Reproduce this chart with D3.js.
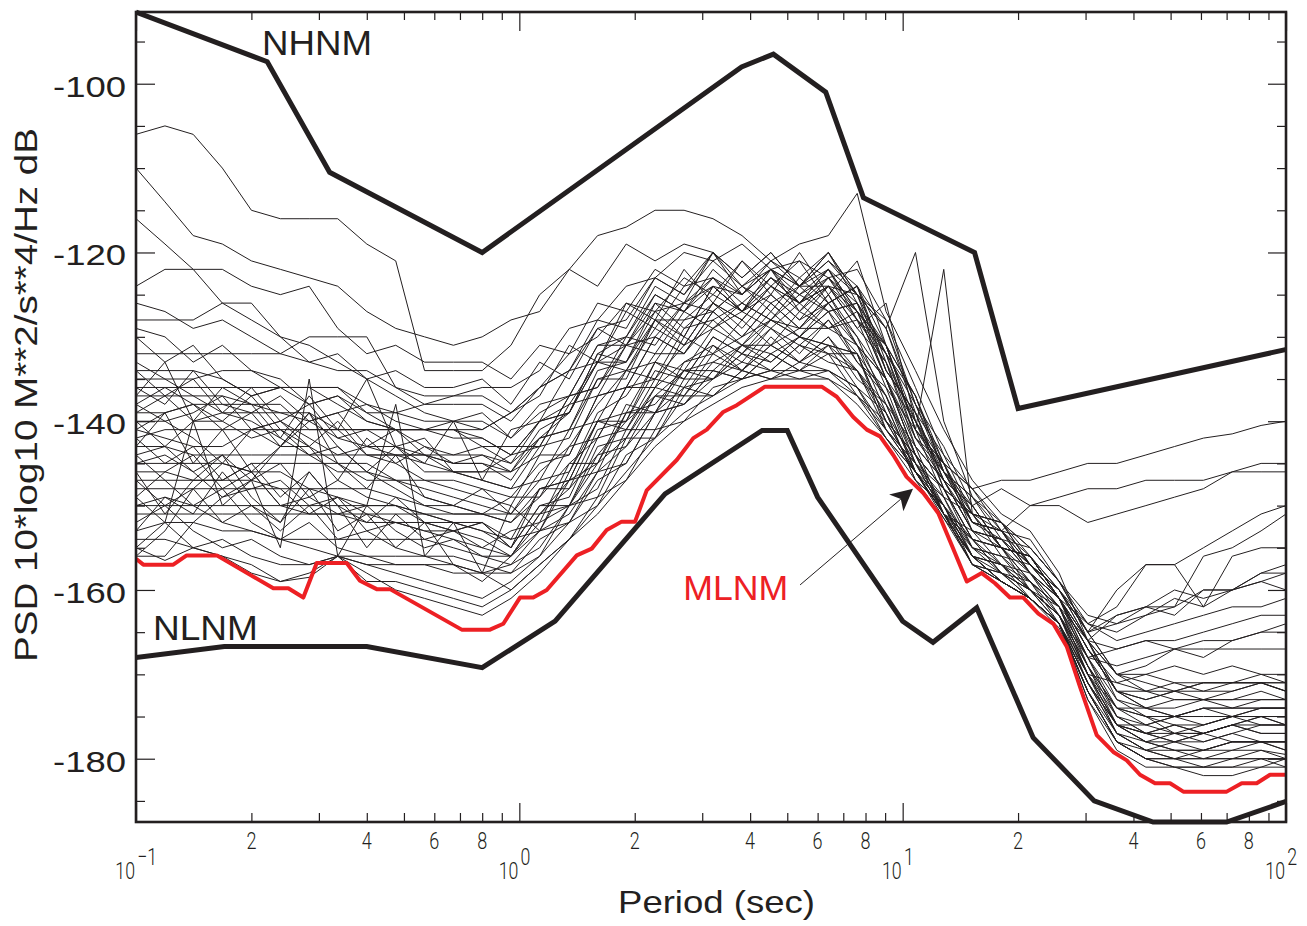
<!DOCTYPE html>
<html>
<head>
<meta charset="utf-8">
<script src="https://cdn.jsdelivr.net/npm/d3@7"></script>
<style>
  html, body { margin: 0; padding: 0; background: #fff; }
  svg { display: block; }
  text { font-family: "Liberation Sans", Arial, Helvetica, sans-serif; fill: #231f20; }
  .thin { font-family: Roboto, "DejaVu Sans", sans-serif; font-weight: 300; fill: #231f20; }
</style>
</head>
<body>
<svg id="chart" width="1307" height="926"></svg>
<script>
// Period grid (s) shared by the station PSD curves, quarter-octave steps
const gridPeriods = [0.1,0.119,0.141,0.168,0.2,0.238,0.283,0.336,0.4,0.476,0.566,0.673,0.8,
  0.951,1.13,1.35,1.6,1.9,2.26,2.69,3.2,3.81,4.53,5.38,6.4,7.61,9.05,10.8,12.8,15.2,18.1,21.5,
  25.6,30.4,36.2,43.1,51.2,60.9,72.4,86.1,100];

// Station PSD curves (dB), one value per grid period
const stationCurves = [
  [-106,-105,-106,-110,-115,-116,-116,-116,-119,-121,-134,-134,-134, -131,-125,-122,-118,-117,-115,-115, -116,-118,-121,-119,-118,-113,-127, -134,-141,-147,-151,-153,-158,-166, -173,-175,-175,-174,-175,-174,-174],
  [-110,-114,-118,-119,-121,-122,-123,-124,-127,-129,-130,-131,-130, -128,-127,-122,-124,-119,-121,-119, -120,-123,-120,-124,-121,-125,-132, -137,-146,-150,-155,-156,-161,-168, -175,-177,-178,-178,-177,-178,-178],
  [-116,-119,-122,-126,-128,-130,-131,-133,-135,-137,-139,-140,-141, -139,-136,-134,-129,-128,-123,-125, -120,-124,-122,-127,-124,-129,-126, -140,-145,-153,-154,-158,-161,-169, -176,-178,-179,-180,-180,-179,-180],
  [-124,-122,-122,-122,-124,-125,-124,-129,-132,-131,-133,-133,-133, -135,-131,-132,-126,-127,-122,-124, -120,-125,-122,-124,-120,-125,-129, -138,-143,-150,-148,-150,-150,-152, -151,-150,-149,-148,-146,-145,-145],
  [-126,-127,-129,-128,-130,-132,-133,-132,-135,-134,-136,-136,-135, -138,-133,-135,-129,-131,-125,-127, -123,-127,-125,-128,-126,-124,-134, -139,-148,-151,-155,-156,-161,-167, -172,-173,-172,-173,-172,-171,-171],
  [-132,-132,-132,-132,-132,-132,-130,-130,-130,-136,-138,-138,-138, -140,-136,-134,-128,-129,-123,-125, -121,-124,-121,-123,-120,-126,-132, -142,-145,-151,-152,-156,-160,-165, -160,-157,-157,-155,-153,-151,-150],
  [-134,-134,-134,-135,-137,-136,-136,-138,-140,-141,-141,-141,-141, -139,-137,-131,-133,-127,-129,-124, -123,-126,-123,-125,-122,-127,-135, -143,-147,-153,-154,-158,-162,-170, -176,-177,-176,-177,-176,-175,-176],
  [-135,-135,-135,-134,-134,-136,-136,-136,-139,-141,-143,-144,-144, -145,-140,-139,-132,-133,-126,-129, -126,-128,-124,-126,-122,-128,-133, -142,-146,-152,-153,-157,-160,-166, -170,-172,-172,-171,-171,-170,-171],
  [-137,-133,-140,-136,-138,-142,-137,-141,-135,-143,-145,-140,-147, -141,-140,-134,-133,-126,-128,-122, -126,-121,-125,-120,-125,-121,-131, -137,-146,-149,-154,-155,-159,-163, -164,-163,-162,-160,-160,-158,-158],
  [-139,-139,-138,-138,-138,-138,-141,-141,-144,-144,-145,-146,-146, -146,-144,-138,-137,-131,-132,-127, -129,-126,-128,-125,-127,-126,-134, -139,-147,-150,-155,-156,-161,-166, -172,-174,-174,-173,-174,-174,-174],
  [-140,-140,-142,-145,-141,-140,-143,-147,-142,-145,-147,-148,-149, -150,-144,-144,-137,-136,-130,-132, -127,-130,-126,-129,-125,-131,-135, -144,-148,-154,-155,-159,-162,-168, -174,-176,-177,-177,-176,-177,-177],
  [-141,-142,-143,-143,-141,-141,-141,-141,-141,-141,-141,-141,-143, -143,-143,-137,-136,-131,-130,-126, -124,-127,-123,-126,-124,-128,-132, -138,-146,-149,-153,-150,-149,-148, -148,-147,-147,-147,-146,-146,-146],
  [-142,-145,-143,-147,-145,-149,-146,-150,-152,-149,-152,-153,-152, -154,-148,-148,-141,-140,-134,-135, -130,-132,-128,-130,-127,-133,-137, -145,-148,-155,-156,-159,-163,-171, -177,-179,-179,-179,-178,-178,-179],
  [-143,-143,-144,-144,-144,-144,-144,-144,-144,-144,-144,-146,-147, -148,-147,-141,-140,-134,-135,-129, -128,-131,-127,-130,-126,-130,-138, -143,-151,-153,-157,-158,-163,-170, -176,-178,-178,-177,-178,-178,-178],
  [-144,-143,-140,-139,-140,-142,-144,-143,-146,-148,-150,-150,-151, -152,-149,-145,-142,-136,-136,-130, -132,-128,-131,-127,-129,-128,-136, -141,-149,-151,-156,-157,-161,-167, -172,-173,-172,-172,-172,-171,-172],
  [-145,-145,-145,-145,-146,-146,-148,-148,-148,-149,-150,-151,-151, -152,-148,-147,-140,-140,-133,-135, -130,-132,-129,-131,-128,-132,-137, -146,-149,-156,-157,-160,-163,-169, -175,-176,-175,-175,-175,-175,-175],
  [-148,-148,-148,-148,-148,-148,-148,-149,-150,-150,-151,-152,-153, -154,-153,-147,-146,-139,-139,-134, -135,-131,-133,-130,-131,-132,-141, -145,-151,-155,-158,-160,-164,-170, -177,-179,-180,-180,-180,-180,-180],
  [-146,-151,-147,-144,-149,-152,-146,-150,-155,-151,-154,-153,-155, -153,-152,-145,-145,-138,-139,-133, -131,-134,-130,-133,-131,-134,-139, -147,-150,-156,-157,-160,-163,-170, -175,-177,-177,-178,-177,-176,-176],
  [-151,-151,-151,-151,-151,-151,-151,-151,-151,-151,-151,-151,-151, -151,-151,-147,-145,-139,-138,-134, -134,-131,-132,-130,-132,-132,-140, -144,-151,-154,-158,-160,-164,-172, -178,-180,-181,-181,-181,-180,-181],
  [-150,-149,-150,-152,-153,-154,-152,-155,-156,-157,-157,-158,-158, -158,-154,-152,-147,-145,-139,-138, -134,-135,-132,-134,-132,-137,-140, -146,-151,-157,-158,-161,-164,-172, -178,-180,-180,-181,-181,-181,-181],
  [-152,-150,-153,-155,-154,-156,-157,-156,-157,-158,-159,-160,-161, -159,-156,-152,-150,-144,-142,-137, -137,-134,-135,-134,-135,-137,-142, -146,-151,-157,-159,-161,-164,-173, -179,-181,-181,-182,-182,-181,-180],
  [-154,-154,-155,-154,-156,-157,-157,-156,-157,-157,-157,-157,-158, -160,-157,-154,-149,-147,-141,-140, -136,-135,-134,-135,-134,-136,-141, -146,-151,-156,-159,-161,-164,-171, -177,-179,-178,-179,-178,-178,-178],
  [-155,-152,-140,-150,-147,-155,-135,-156,-150,-138,-156,-152,-158, -150,-153,-146,-140,-141,-136,-133, -132,-130,-128,-129,-126,-131,-137, -144,-150,-154,-157,-159,-162,-170, -174,-174,-175,-174,-174,-173,-173],
  [-156,-153,-148,-145,-146,-150,-151,-149,-151,-152,-153,-154,-155, -156,-151,-150,-144,-143,-137,-138, -134,-135,-132,-134,-131,-136,-139, -147,-150,-157,-158,-161,-164,-172, -177,-178,-177,-177,-176,-176,-176],
  [-156,-156,-152,-149,-147,-143,-140,-139,-138,-140,-141,-142,-142, -144,-140,-138,-133,-134,-128,-131, -126,-129,-125,-128,-124,-129,-133, -143,-147,-153,-154,-157,-161,-166, -167,-166,-167,-166,-166,-165,-165],
  [-149,-152,-155,-156,-157,-159,-158,-156,-158,-160,-161,-162,-163, -161,-158,-154,-151,-147,-143,-140, -138,-136,-135,-135,-135,-138,-142, -146,-151,-157,-159,-161,-164,-173, -178,-180,-181,-181,-180,-180,-180],
  [-147,-150,-148,-152,-150,-153,-150,-154,-153,-155,-156,-157,-158, -157,-155,-150,-149,-142,-142,-136, -137,-134,-135,-133,-134,-136,-142, -147,-151.5,-157,-159,-161,-164,-171, -176,-177,-176,-177,-176,-177,-177],
  [-136,-138,-134,-138,-139,-137,-140,-139,-143,-141,-144,-145,-145, -146,-141,-139,-132,-130,-124,-126, -120,-123,-120,-124,-121,-124,-129, -120,-140,-149,-152,-155,-159,-165, -170,-170,-169,-170,-169,-170,-170],
  [-138,-136,-138,-141,-139,-143,-139,-143,-146,-143,-146,-146,-147, -148,-143,-142,-135,-135,-128,-130, -124,-127,-122,-126,-122,-127,-131, -141,-122,-151,-152,-157,-160,-164, -165,-163,-161,-162,-160,-159,-160],
  [-130,-133,-131,-135,-137,-136,-138,-137,-140,-141,-141,-140,-139, -142,-139,-137,-131,-131,-126,-127, -122,-125,-122,-125,-123,-126,-131, -141,-145,-152,-153,-158,-161,-167, -171,-172,-173,-173,-173,-173,-173],
  [-129,-130,-133,-131,-134,-135,-138,-137,-139,-139,-138,-137,-137, -139,-136,-132,-130,-126,-127,-123, -125,-121,-124,-121,-126,-124,-131, -137,-145,-148,-147,-147,-146,-145, -145,-144,-143,-142,-141.5,-140.5,-140],
  [-142,-141,-141,-141,-141,-143,-143,-145,-145,-147,-148,-149,-150, -151,-147,-146,-139,-137,-132,-132, -127,-130,-126,-129,-125,-130,-135, -144,-148,-154,-155,-159,-162,-166, -163,-162,-160,-161,-160,-158,-157],
  [-139,-137,-140,-140,-142,-141,-144,-146,-146,-147,-147,-147,-148, -149,-145,-144,-137,-136,-130,-132, -128,-126,-128,-124,-127,-126,-135, -140,-148,-151,-155,-156,-161,-164, -162,-157,-157,-162,-156,-155,-155],
  [-133,-135,-137,-137,-138,-139,-140,-142,-143,-143,-144,-144,-143, -145,-142,-141,-135,-134,-129,-131, -126,-128,-124,-127,-123,-127,-132, -141,-146,-152,-153,-157,-160,-165, -164,-162,-162,-156,-155,-153,-151],
  [-137,-137,-137,-139,-139,-139,-139,-141,-141,-141,-141,-141,-142, -144,-140,-139,-133,-133,-127,-130, -124,-127,-123,-126,-124,-125,-134, -139,-147,-150,-155,-156,-161,-168, -169,-168,-167,-167,-167,-167,-167],
  [-146,-146,-147,-147,-147,-148,-151,-151,-152,-152,-152,-152,-153, -155,-150,-149,-142,-141,-135,-136, -131,-133,-129,-132,-128,-133,-136, -145,-149,-155,-156,-160,-163,-168, -167,-166,-166,-165,-164,-163,-163],
  [-140,-143,-146,-144,-147,-145,-149,-147,-149,-150,-151,-152,-152, -155,-150,-150,-143,-142,-136,-137, -132,-134,-131,-133,-130,-134,-138, -146,-150,-156,-157,-161,-164,-170, -171,-170,-171,-171,-171,-171,-172],
  [-153,-152,-152,-153,-153,-154,-154,-154,-154,-154,-154,-155,-156, -157,-153,-152,-146,-145,-139,-138, -135,-133,-134,-131,-133,-134,-141, -145,-151,-156,-159,-161,-164,-171, -176,-176,-175,-176,-175,-175,-175],
  [-144,-147,-150,-148,-152,-154,-155,-156,-156,-156,-156,-156,-157, -158,-156,-150,-148,-141,-141,-135, -135,-132,-133,-130,-131,-132,-140, -144,-151,-154,-158,-159,-164,-171, -176,-178,-179,-179,-179,-178,-179],
  [-150,-150,-150,-150,-150,-150,-150,-150,-150,-150,-152,-153,-154, -156,-152,-150,-145,-142,-137,-137, -133,-134,-131,-133,-130,-135,-138, -146,-151,-156,-159,-161,-164,-172, -178,-180,-180,-180,-179,-179,-179.5],
  [-155,-156.5,-155,-156,-158,-159,-158.5,-156,-159,-159,-160,-161,-162, -160,-157,-154,-150,-146,-142,-139, -137,-135,-134,-134,-134,-137,-141, -146,-151.5,-156,-159,-161,-164.5,-172, -178,-179,-180,-179,-178,-178,-178],
  [-141,-139,-138,-140,-137,-141,-143,-140,-144,-145,-143,-145,-145, -147,-142,-141,-134,-133,-128,-128, -125,-127,-124,-126,-123,-128,-131, -141,-145,-152,-153,-158,-161,-167, -172,-174,-175,-174,-174,-174,-174],
  [-136,-136,-136,-136,-136,-136,-136,-136,-138,-139,-140,-140,-140, -142,-138,-137,-131,-130,-125,-127, -124,-125,-122,-124,-122,-125,-129, -139,-144,-151,-152,-157,-160,-165, -170,-171,-172,-171,-171,-171,-171],
  [-145,-144,-146,-149,-148,-147,-150,-149,-153,-152,-153,-153,-152, -155,-148,-147,-140,-139,-133,-134, -129,-131,-128,-130,-127,-131,-135, -144,-148,-154,-155,-160,-162,-168, -173,-174,-173,-173,-173,-172,-173],
  [-138,-140,-139,-137,-141,-140,-142,-144,-143,-144,-144,-145,-144, -146,-142,-139,-133,-131,-127,-126, -123,-125,-121,-124,-120,-125,-128, -138,-145,-148,-153,-154,-159,-165, -163,-162,-163,-160,-160,-159,-158],
  [-143,-139,-145,-141,-146,-143,-139,-145,-148,-144,-149,-150,-148, -151,-146,-143,-138,-134,-133,-128, -127,-124,-127,-123,-126,-124,-133, -140,-147,-152,-154,-157,-161,-166, -170,-169,-167,-168,-166,-165,-164],
  [-147,-147,-147,-147,-145,-145,-145,-145,-147,-147,-149,-150,-151, -149,-149,-143,-142,-136,-135,-131, -129,-127,-129,-126,-129,-127,-135, -142,-147,-153,-155,-158,-162,-169, -174,-175,-176,-176,-175,-176,-176],
  [-153,-149,-151,-146,-150,-152,-148,-153,-151,-155,-152,-157,-159, -156,-153,-151,-146,-143,-139,-136, -135,-132,-134,-131,-132,-134,-140, -146,-150,-156,-158,-160,-163,-169, -174,-175,-177,-176,-175,-174,-174],
  [-128,-128,-128,-126,-126,-130,-133,-134,-134,-136,-137,-137,-136, -136,-134,-129,-128,-124,-123,-120, -121,-119,-122,-121,-123,-122,-128, -136,-144,-148,-152,-155,-159,-164, -166,-165,-164,-163,-162,-162,-161],
  [-134,-137,-135,-139,-136,-140,-138,-142,-141,-143,-142,-146,-146, -144,-143,-137,-136,-130,-131,-126, -127,-124,-126,-124,-124,-127,-131, -140,-146,-151,-153,-156,-160,-166, -172,-172,-171,-172,-171,-171,-172],
  [-149,-146,-144,-148,-146,-150,-149,-151,-150,-153,-155,-154,-156, -156,-151,-148,-144,-140,-137,-134, -133,-131,-131,-129,-129,-131,-139, -145,-150,-155,-157,-160,-163,-170, -176,-177,-178,-177,-176,-175,-176]
];

// Minimum low noise model (red)
const mlnmPeriods = [0.1,0.1045,0.1251,0.1356,0.1624,0.2282,0.2496,0.2732,0.2961,0.3545,0.3839,0.4246,0.4598,
  0.7073,0.8385,0.9083,1.004,1.087,1.179,1.412,1.545,1.69,1.849,2.004,2.149,2.574,2.844,3.083,3.404,3.692,
  4.374,6.149,6.73,7.43,8.06,8.73,9.45,10.24,11.32,12.39,13.43,14.7,16.08,17.41,19.05,20.64,22.59,24.72,
  26.79,29.02,32.08,35.44,38.42,41.61,45.53,49.83,53.97,70.03,76.65,83.86,90.86,100];
const mlnmValues = [-156.3,-157,-157,-155.9,-155.9,-159.8,-159.8,-160.9,-156.8,-156.8,-158.9,-159.9,-159.9,
  -164.7,-164.7,-164,-160.9,-160.9,-160,-155.9,-155.1,-152.9,-151.9,-151.9,-148.2,-144.6,-142,-141,-138.9,-138.1,
  -135.9,-135.9,-137.1,-139.5,-141,-141.8,-144,-146.6,-148.5,-150.9,-154.7,-159,-158,-159.2,-160.9,-160.9,-162.8,-164,
  -166.7,-171.5,-177.2,-179.2,-180.2,-181.9,-182.9,-182.9,-183.9,-183.9,-182.9,-182.9,-181.9,-181.9];

// Peterson new high / new low noise models (breakpoints)
const nhnmPeriods = [0.1,0.22,0.32,0.8,3.8,4.6,6.3,7.9,15.4,20,354.8];
const nhnmValues = [-91.5,-97.4,-110.5,-120,-98,-96.5,-101,-113.5,-120,-138.5,-126];
const nlnmPeriods = [0.1,0.17,0.4,0.8,1.24,2.4,4.3,5,6,10,12,15.6,21.9,31.6,45,70,101];
const nlnmValues = [-168,-166.7,-166.7,-169.2,-163.7,-148.6,-141.1,-141.1,-149,-163.7,-166.2,-162.1,-177.5,-185,-187.5,-187.5,-185];

// Axis ticks and labels
const yMajorTicks = [-100,-120,-140,-160,-180];
const yMinorTicks = [-185,-175,-170,-165,-155,-150,-145,-135,-130,-125,-115,-110,-105,-95];
const yTickLabels = ["-100","-120","-140","-160","-180"];
const xDecades = [0.1,1,10,100];
const xDecadeExponents = ["\u22121","0","1","2"];
const xMinorTicks = [0.2,0.3,0.4,0.5,0.6,0.7,0.8,0.9,2,3,4,5,6,7,8,9,20,30,40,50,60,70,80,90];
const xLabelTicks = [0.2,0.4,0.6,0.8,2,4,6,8,20,40,60,80];
const xLabelTexts = ["2","4","6","8","2","4","6","8","2","4","6","8"];

// Curve labels placed in data units [period, dB]
const modelLabels = [
  {text:"NHNM", at:[0.2132,-96.6], width:110, color:"#231f20"},
  {text:"NLNM", at:[0.1107,-165.9], width:105, color:"#231f20"},
  {text:"MLNM", at:[2.678,-161.2], width:105, color:"#ed2024"}
];
const arrowFrom = [5.40,-159.4];
const arrowTo = [10.64,-148.0];

const ink = "#231f20", red = "#ed2024";
const plot = {left:136, right:1286, top:12, bottom:822};

const x = d3.scaleLog().domain([0.1,100]).range([plot.left, plot.right]);
const y = d3.scaleLinear().domain([-187.5,-91.5]).range([plot.bottom, plot.top]);

const svg = d3.select("#chart");

svg.append("defs").append("clipPath").attr("id","plotClip")
  .append("rect")
  .attr("x", plot.left).attr("y", plot.top - 4)
  .attr("width", plot.right - plot.left).attr("height", plot.bottom - plot.top + 8);

const layer = svg.append("g").attr("clip-path","url(#plotClip)");

const gridLine = d3.line().x((d,i) => x(gridPeriods[i])).y(d => y(d));
layer.selectAll("path.station").data(stationCurves).join("path")
  .attr("class","station")
  .attr("d", gridLine)
  .attr("fill","none")
  .attr("stroke", ink)
  .attr("stroke-width", 1);

const pairLine = d3.line().x(d => x(d[0])).y(d => y(d[1]));
const zip = (ps, vs) => ps.map((p,i) => [p, vs[i]]);

layer.append("path").datum(zip(mlnmPeriods, mlnmValues))
  .attr("d", pairLine).attr("fill","none")
  .attr("stroke", red).attr("stroke-width", 4).attr("stroke-linejoin","round");

[[nhnmPeriods, nhnmValues],[nlnmPeriods, nlnmValues]].forEach(([ps, vs]) => {
  layer.append("path").datum(zip(ps, vs))
    .attr("d", pairLine).attr("fill","none")
    .attr("stroke", ink).attr("stroke-width", 5).attr("stroke-linejoin","miter");
});

// Inward ticks on all four sides
function tickSet(axis, transform, values, size) {
  const gAxis = svg.append("g").attr("transform", transform)
    .call(axis.tickValues(values).tickSize(size).tickFormat(""));
  gAxis.select(".domain").remove();
  gAxis.selectAll("line").attr("stroke", ink).attr("stroke-width", 1.2);
}
tickSet(d3.axisLeft(y), `translate(${plot.left},0)`, yMinorTicks, -9);
tickSet(d3.axisLeft(y), `translate(${plot.left},0)`, yMajorTicks, -19);
tickSet(d3.axisRight(y), `translate(${plot.right},0)`, yMinorTicks, -9);
tickSet(d3.axisRight(y), `translate(${plot.right},0)`, yMajorTicks, -18);
tickSet(d3.axisBottom(x), `translate(0,${plot.bottom})`, xMinorTicks, -9);
tickSet(d3.axisBottom(x), `translate(0,${plot.bottom})`, xDecades, -19);
tickSet(d3.axisTop(x), `translate(0,${plot.top})`, xMinorTicks, -8);
tickSet(d3.axisTop(x), `translate(0,${plot.top})`, xDecades, -19);

// Frame
svg.append("rect")
  .attr("x", plot.left).attr("y", plot.top)
  .attr("width", plot.right - plot.left).attr("height", plot.bottom - plot.top)
  .attr("fill","none").attr("stroke", ink).attr("stroke-width", 2.6);

// Y tick labels
svg.selectAll("text.ylab").data(yMajorTicks).join("text")
  .attr("class","ylab")
  .attr("x", plot.left - 10)
  .attr("y", d => y(d) + 13)
  .attr("text-anchor","end")
  .attr("font-size", 30)
  .attr("textLength", 73)
  .attr("lengthAdjust","spacingAndGlyphs")
  .text((d,i) => yTickLabels[i]);

// X minor labels (2 4 6 8)
svg.selectAll("text.xlab").data(xLabelTicks).join("text")
  .attr("class","xlab thin")
  .attr("x", d => x(d))
  .attr("y", 848.5)
  .attr("text-anchor","middle")
  .attr("font-size", 24)
  .attr("textLength", 10)
  .attr("lengthAdjust","spacingAndGlyphs")
  .text((d,i) => xLabelTexts[i]);

// Decade labels 10^n: one condensed text per label with a raised exponent
const condense = 0.74;
xDecades.forEach((d,i) => {
  const t = svg.append("text").attr("class","thin")
    .attr("font-size", 24)
    .attr("transform", `translate(${x(d)},879) scale(${condense},1)`);
  t.append("tspan").text("10");
  t.append("tspan").attr("dx", 3).attr("dy", -14).text(xDecadeExponents[i]);
  const w = t.node().getSubStringLength(0, 2);
  t.attr("x", -w - 1 / condense);
});

// Axis titles
svg.append("text")
  .attr("x", 716.5).attr("y", 913)
  .attr("text-anchor","middle").attr("font-size", 32)
  .attr("textLength", 197).attr("lengthAdjust","spacingAndGlyphs")
  .text("Period (sec)");

svg.append("text")
  .attr("transform","translate(37,395) rotate(-90)")
  .attr("text-anchor","middle").attr("font-size", 31)
  .attr("textLength", 534).attr("lengthAdjust","spacingAndGlyphs")
  .text("PSD 10*log10 M**2/s**4/Hz dB");

// Model labels
svg.selectAll("text.model").data(modelLabels).join("text")
  .attr("class","model")
  .attr("x", d => x(d.at[0])).attr("y", d => y(d.at[1]))
  .attr("font-size", 35)
  .attr("textLength", d => d.width).attr("lengthAdjust","spacingAndGlyphs")
  .style("fill", d => d.color)
  .text(d => d.text);

// Pointer from the MLNM label to the red curve
const ax0 = x(arrowFrom[0]), ay0 = y(arrowFrom[1]);
const ax1 = x(arrowTo[0]), ay1 = y(arrowTo[1]);
const ang = Math.atan2(ay1 - ay0, ax1 - ax0);
const headLen = 22, headHalf = 11, notch = 16;
const ux = Math.cos(ang), uy = Math.sin(ang);
const px = -uy, py = ux;
svg.append("line")
  .attr("x1", ax0).attr("y1", ay0)
  .attr("x2", ax1 - ux * notch).attr("y2", ay1 - uy * notch)
  .attr("stroke", ink).attr("stroke-width", 1);
const head = [
  [ax1, ay1],
  [ax1 - ux*headLen + px*headHalf, ay1 - uy*headLen + py*headHalf],
  [ax1 - ux*notch, ay1 - uy*notch],
  [ax1 - ux*headLen - px*headHalf, ay1 - uy*headLen - py*headHalf]
];
svg.append("path")
  .attr("d", "M" + head.map(p => p.join(",")).join("L") + "Z")
  .attr("fill", ink);
</script>
</body>
</html>
